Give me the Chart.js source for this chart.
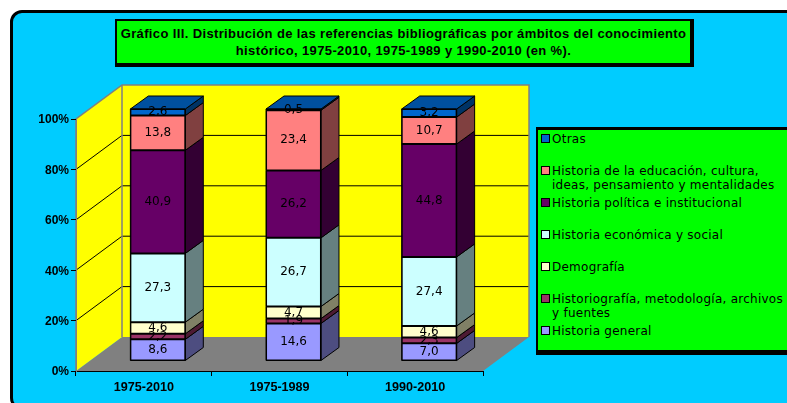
<!DOCTYPE html>
<html lang="es">
<head>
<meta charset="utf-8">
<title>Gráfico III</title>
<script src="https://cdn.jsdelivr.net/npm/chart.js@4"></script>
<style>
  html, body { margin: 0; padding: 0; background: #fff; overflow: hidden; }
  #page { position: relative; width: 787px; height: 403px; overflow: hidden; }
  #panel { position: absolute; left: 10px; top: 10px; width: 900px; height: 394px; background: #00ccff;
           border: 3px solid #000; border-radius: 12px; }
  #chart { position: absolute; left: 0; top: 0; }
  #title { position: absolute; left: 115px; top: 19px; width: 573px; height: 38px; background: #00ff00;
           border: 2px solid #000; border-right-width: 4px; border-bottom-width: 4px;
           font: bold 13px/17px "Liberation Sans", Arial, sans-serif; letter-spacing: 0.37px; color: #000; text-align: center;
           padding-top: 4px; box-sizing: content-box; white-space: nowrap; }
  #legend { position: absolute; left: 536px; top: 127px; width: 300px; height: 220px; background: #00ff00;
            border: 2px solid #000; border-top-width: 3px; border-bottom-width: 5px;
            font: 12px/14px "DejaVu Sans", Verdana, sans-serif; letter-spacing: 0.25px; color: #000; }
  .item { position: absolute; left: 14px; width: 236px; }
  .item i { position: absolute; left: -11px; top: 2px; width: 7px; height: 7px; border: 1px solid #000; }
</style>
</head>
<body>
<div id="page">
  <div id="panel"></div>
  <canvas id="chart" width="787" height="403"></canvas>
  <div id="title">Gráfico III. Distribución de las referencias bibliográficas por ámbitos del conocimiento<br>histórico, 1975-2010, 1975-1989 y 1990-2010 (en %).</div>
  <div id="legend"></div>
</div>
<script>
const periods = ['1975-2010', '1975-1989', '1990-2010']
const yTicks = [0, 20, 40, 60, 80, 100]

const seriesNames = [
  'Historia general',
  'Historiografía, metodología, archivos y fuentes',
  'Demografía',
  'Historia económica y social',
  'Historia política e institucional',
  'Historia de la educación, cultura, ideas, pensamiento y mentalidades',
  'Otras'
]
const general = [8.6, 14.6, 7.0]
const historiografia = [2.2, 1.9, 2.3]
const demografia = [4.6, 4.7, 4.6]
const economica = [27.3, 26.7, 27.4]
const politica = [40.9, 26.2, 44.8]
const educacion = [13.8, 23.4, 10.7]
const otras = [2.6, 0.5, 3.2]
const seriesColors = ['#9999ff', '#993366', '#ffffcc', '#ccffff', '#660066', '#ff8080', '#0066cc']

const seriesValues = [general, historiografia, demografia, economica, politica, educacion, otras]

// the chart is a 100% stacked one, and the second column only adds up to 98.5
const totals = periods.map((_, i) => seriesValues.reduce((sum, s) => sum + s[i], 0))

// fake 3D: wall depth, where the bars stand in it, and how deep they are
const wall = { dx: 46, dy: -34 }
const barShift = { dx: 14, dy: -10 }
const barDepth = { dx: 18, dy: -13 }

function shade(hex, f) {
  const n = parseInt(hex.slice(1), 16)
  return `rgb(${Math.round((n >> 16) * f)},${Math.round(((n >> 8) & 255) * f)},${Math.round((n & 255) * f)})`
}

function poly(ctx, pts, fill, stroke) {
  ctx.beginPath()
  pts.forEach((p, i) => i ? ctx.lineTo(p[0], p[1]) : ctx.moveTo(p[0], p[1]))
  ctx.closePath()
  if (fill) { ctx.fillStyle = fill; ctx.fill() }
  if (stroke) { ctx.strokeStyle = stroke; ctx.stroke() }
}

const walls3d = {
  id: 'walls3d',
  beforeDraw(chart) {
    const { ctx, chartArea: a, scales: { y } } = chart
    const bx = a.left + wall.dx, by = wall.dy
    ctx.save()
    ctx.lineWidth = 1
    poly(ctx, [[a.left, a.bottom], [a.right, a.bottom], [a.right + wall.dx, a.bottom + by], [bx, a.bottom + by]], '#808080')
    poly(ctx, [[bx, a.top + by], [a.right + wall.dx, a.top + by], [a.right + wall.dx, a.bottom + by], [bx, a.bottom + by]], '#ffff00')
    poly(ctx, [[a.left, a.top], [bx, a.top + by], [bx, a.bottom + by], [a.left, a.bottom]], '#ffff00')

    yTicks.slice(1, -1).forEach(v => {
      const py = y.getPixelForValue(v)
      ctx.strokeStyle = '#000'
      ctx.beginPath()
      ctx.moveTo(a.left, py)
      ctx.lineTo(bx, py + by)
      ctx.lineTo(a.right + wall.dx, py + by)
      ctx.stroke()
    })

    ctx.strokeStyle = '#808080'
    ctx.lineWidth = 1.5
    ctx.beginPath()
    ctx.moveTo(a.left, a.bottom)
    ctx.lineTo(a.left, a.top)
    ctx.lineTo(bx, a.top + by)
    ctx.lineTo(a.right + wall.dx, a.top + by)
    ctx.lineTo(a.right + wall.dx, a.bottom + by)
    ctx.moveTo(bx, a.top + by)
    ctx.lineTo(bx, a.bottom + by)
    ctx.stroke()
    ctx.restore()
  }
}

const bars3d = {
  id: 'bars3d',
  beforeDatasetsDraw(chart) {
    const { ctx } = chart
    // side faces and top first, then the library draws the fronts shifted into the depth
    ctx.save()
    ctx.translate(barShift.dx, barShift.dy)
    ctx.lineWidth = 1
    const last = chart.data.datasets.length - 1
    chart.data.datasets.forEach((ds, d) => {
      chart.getDatasetMeta(d).data.forEach(bar => {
        const r = bar.x + bar.width / 2, l = bar.x - bar.width / 2
        poly(ctx, [[r, bar.y], [r + barDepth.dx, bar.y + barDepth.dy],
                   [r + barDepth.dx, bar.base + barDepth.dy], [r, bar.base]], shade(ds.backgroundColor, 0.5), '#000')
        if (d === last) {
          poly(ctx, [[l, bar.y], [l + barDepth.dx, bar.y + barDepth.dy],
                     [r + barDepth.dx, bar.y + barDepth.dy], [r, bar.y]], shade(ds.backgroundColor, 0.78), '#000')
        }
        // black backing so the wall does not bleed through the fractional bar edges
        poly(ctx, [[l, bar.y], [r, bar.y], [r, bar.base], [l, bar.base]], '#000', '#000')
      })
    })
  },
  afterDatasetsDraw(chart) {
    const { ctx } = chart
    ctx.font = '12px "DejaVu Sans", Verdana, sans-serif'
    ctx.fillStyle = '#000'
    ctx.textAlign = 'center'
    ctx.textBaseline = 'middle'
    chart.data.datasets.forEach((ds, d) => {
      chart.getDatasetMeta(d).data.forEach((bar, i) => {
        ctx.fillText(seriesValues[d][i].toFixed(1).replace('.', ','), bar.x, (bar.y + bar.base) / 2)
      })
    })
    ctx.restore()
  }
}

new Chart(document.getElementById('chart'), {
  type: 'bar',
  data: {
    labels: periods,
    datasets: seriesNames.map((name, d) => ({
      label: name,
      data: seriesValues[d].map((v, i) => v / totals[i] * 100),
      backgroundColor: seriesColors[d],
      borderColor: '#000',
      borderWidth: 1,
      borderSkipped: false,
      barPercentage: 0.405,
      categoryPercentage: 1,
      clip: false
    }))
  },
  options: {
    responsive: false,
    animation: false,
    layout: { padding: { top: 119, right: 304, left: 0, bottom: 0 } },
    plugins: { legend: { display: false }, tooltip: { enabled: false } },
    scales: {
      x: {
        stacked: true,
        afterFit: scale => { scale.height = 32 },
        grid: { drawOnChartArea: false, color: '#000', tickLength: 5 },
        border: { color: '#000', width: 1 },
        ticks: { color: '#000', font: { family: '"Liberation Sans", Arial, sans-serif', size: 12.6, weight: 'bold' }, padding: 4, maxRotation: 0 }
      },
      y: {
        stacked: true,
        min: 0,
        max: 100,
        afterFit: scale => { scale.width = 76 },
        afterBuildTicks: scale => { scale.ticks = yTicks.map(value => ({ value })) },
        grid: { drawOnChartArea: false, color: '#000', tickLength: 5 },
        border: { color: '#808080', width: 1 },
        ticks: {
          color: '#000',
          font: { family: '"Liberation Sans", Arial, sans-serif', size: 12, weight: 'bold' },
          padding: 2,
          labelOffset: 1,
          callback: v => v + '%'
        }
      }
    }
  },
  plugins: [walls3d, bars3d]
})

// legend box, top entry first like the stack
const legendBox = document.getElementById('legend')
seriesNames.slice().reverse().forEach((name, i) => {
  const color = seriesColors[seriesNames.length - 1 - i]
  const item = document.createElement('div')
  item.className = 'item'
  item.style.top = (2 + i * 32) + 'px'
  item.innerHTML = `<i style="background:${color}"></i>${name}`
  legendBox.appendChild(item)
})
</script>
</body>
</html>
